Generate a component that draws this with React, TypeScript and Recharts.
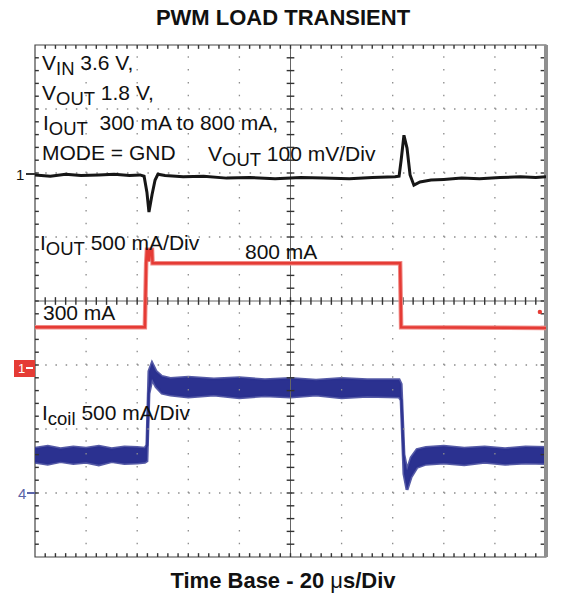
import React from 'react';
import {
  ComposedChart, Line, Area, XAxis, YAxis,
  ReferenceLine, ReferenceArea, ReferenceDot,
} from 'recharts';

// time in µs (20 µs/Div, 10 Div), level in screen divisions (0 = bottom, 8 = top)
const GRID_T = [20, 40, 60, 80, 120, 140, 160, 180];
const GRID_V = [1, 2, 3, 5, 6, 7];

// V_OUT, 100 mV/Div
const VOUT_T = [0, 6, 12, 18, 25, 31, 37, 41.1, 42.7, 43.8, 44.6, 45.8, 47.0, 48.1, 50.9, 58, 66, 75, 84, 94, 104, 113, 123, 132, 140.9, 142.5, 143.3, 144.4, 145.6, 146.8, 148.3, 150.7, 155, 160, 167, 174, 182, 190, 196, 200];
const VOUT_V = [5.97, 5.95, 5.98, 5.96, 5.97, 5.98, 5.96, 5.97, 5.95, 5.70, 5.39, 5.66, 5.89, 5.98, 5.96, 5.94, 5.95, 5.92, 5.93, 5.91, 5.93, 5.92, 5.91, 5.93, 5.94, 5.95, 6.20, 6.59, 6.39, 5.97, 5.81, 5.86, 5.89, 5.90, 5.92, 5.91, 5.93, 5.94, 5.93, 5.94];

// I_OUT, 500 mA/Div (300 mA -> 800 mA -> 300 mA)
const IOUT_T = [0, 43.0, 43.5, 43.8, 44.4, 44.6, 45.2, 45.8, 46.0, 100, 142.9, 143.3, 200];
const IOUT_V = [3.59, 3.59, 4.59, 4.80, 4.80, 4.62, 4.80, 4.80, 4.59, 4.59, 4.59, 3.59, 3.58];

// I_coil, 500 mA/Div, ripple band (low / high edge)
const ICOIL_T = [0, 5, 10, 15, 20, 25, 30, 35, 40, 43.0, 43.8, 44.6, 45.8, 47.4, 49.7, 53, 60, 70, 80, 90, 100, 110, 120, 130, 142.5, 143.3, 144.4, 145.6, 147.2, 149.5, 153, 160, 168, 176, 184, 192, 200];
const ICOIL_LO = [1.48, 1.45, 1.49, 1.46, 1.48, 1.44, 1.49, 1.46, 1.47, 1.48, 1.50, 2.55, 2.78, 2.66, 2.56, 2.53, 2.50, 2.53, 2.49, 2.52, 2.50, 2.53, 2.49, 2.51, 2.50, 2.45, 1.30, 1.05, 1.25, 1.40, 1.45, 1.47, 1.44, 1.48, 1.45, 1.47, 1.46];
const ICOIL_HI = [1.70, 1.73, 1.69, 1.72, 1.70, 1.73, 1.69, 1.72, 1.71, 1.70, 1.75, 2.90, 3.03, 2.90, 2.82, 2.79, 2.81, 2.78, 2.80, 2.77, 2.79, 2.76, 2.79, 2.77, 2.77, 2.70, 1.60, 1.35, 1.55, 1.68, 1.71, 1.73, 1.70, 1.72, 1.69, 1.72, 1.71];

const voutData = VOUT_T.map((t, i) => ({ t, v: VOUT_V[i] }));
const ioutData = IOUT_T.map((t, i) => ({ t, v: IOUT_V[i] }));
const icoilData = ICOIL_T.map((t, i) => ({ t, band: [ICOIL_LO[i], ICOIL_HI[i]] }));

// minor graticule ticks, 5 per division
const MINOR_T = Array.from({ length: 49 }, (_, i) => (i + 1) * 4);
const MINOR_V = Array.from({ length: 39 }, (_, i) => +((i + 1) * 0.2).toFixed(1));
const TICK_DV = 0.06; // half tick length in divisions (vertical ticks)
const TICK_DT = 1.5;  // half tick length in µs (horizontal ticks)
const TICK_COLOR = '#333';

const FONT = '"Liberation Sans", Arial, Helvetica, sans-serif';
const SIZE = 21;

function Txt({ x, base, size = SIZE, bold = false, color = '#111', children }: any) {
  return (
    <div style={{
      position: 'absolute', left: x, top: base - size * 0.845, fontSize: size, lineHeight: `${size}px`,
      fontFamily: FONT, fontWeight: bold ? 700 : 400, color, whiteSpace: 'nowrap',
    }}>
      {children}
    </div>
  );
}

const Sub = ({ children }: any) => (
  <span style={{ fontSize: '0.88em', position: 'relative', top: '0.27em' }}>{children}</span>
);

const centred = (top: number) => ({
  position: 'absolute' as const, left: 0, top, width: 566, textAlign: 'center' as const,
  fontFamily: FONT, fontWeight: 700, fontSize: 22, lineHeight: '22px', color: '#111', whiteSpace: 'nowrap' as const,
});

export default function App() {
  return (
    <div style={{ position: 'absolute', left: 0, top: 0, width: 563, height: 601, background: '#fff' }}>
      <ComposedChart width={563} height={601} margin={{ top: 45, right: 17, bottom: 44, left: 35 }}>
        <XAxis type="number" dataKey="t" domain={[0, 200]} allowDataOverflow hide />
        <YAxis type="number" domain={[0, 8]} allowDataOverflow hide />

        {/* dotted graticule */}
        {GRID_T.map((t) => (
          <ReferenceLine key={`gx${t}`} x={t} stroke="#8c8c8c" strokeWidth={1.3} strokeDasharray="1.5 11.3" />
        ))}
        {GRID_V.map((v) => (
          <ReferenceLine key={`gy${v}`} y={v} stroke="#8c8c8c" strokeWidth={1.3} strokeDasharray="1.5 8.72" />
        ))}
        <ReferenceLine x={100} stroke="#666" strokeWidth={1} />
        <ReferenceLine y={4} stroke="#666" strokeWidth={1} />

        {/* minor ticks on centre lines and frame */}
        {MINOR_T.map((t) => (
          <ReferenceLine key={`c${t}`} stroke={TICK_COLOR} strokeWidth={1.4} ifOverflow="visible"
            segment={[{ x: t, y: 4 - TICK_DV }, { x: t, y: 4 + TICK_DV }]} />
        ))}
        {MINOR_T.map((t) => (
          <ReferenceLine key={`t${t}`} stroke={TICK_COLOR} strokeWidth={1.4} ifOverflow="visible"
            segment={[{ x: t, y: 8 - TICK_DV }, { x: t, y: 8 }]} />
        ))}
        {MINOR_T.map((t) => (
          <ReferenceLine key={`b${t}`} stroke={TICK_COLOR} strokeWidth={1.4} ifOverflow="visible"
            segment={[{ x: t, y: 0 }, { x: t, y: TICK_DV }]} />
        ))}
        {MINOR_V.map((v) => (
          <ReferenceLine key={`m${v}`} stroke={TICK_COLOR} strokeWidth={1.4} ifOverflow="visible"
            segment={[{ x: 100 - TICK_DT, y: v }, { x: 100 + TICK_DT, y: v }]} />
        ))}
        {MINOR_V.map((v) => (
          <ReferenceLine key={`l${v}`} stroke={TICK_COLOR} strokeWidth={1.4} ifOverflow="visible"
            segment={[{ x: 0, y: v }, { x: TICK_DT, y: v }]} />
        ))}
        {MINOR_V.map((v) => (
          <ReferenceLine key={`r${v}`} stroke={TICK_COLOR} strokeWidth={1.4} ifOverflow="visible"
            segment={[{ x: 200 - TICK_DT * 1.4, y: v }, { x: 200, y: v }]} />
        ))}

        <ReferenceArea x1={0} x2={200} y1={0} y2={8} fill="none" stroke="#444" strokeWidth={1.2} />
        <ReferenceLine x={200} stroke="#8f8f8f" strokeWidth={4} />

        <Area data={icoilData} dataKey="band" type="linear" stroke="#2b3190" strokeOpacity={0.8} strokeWidth={3}
          fill="#2b3190" fillOpacity={1} dot={false} activeDot={false} isAnimationActive={false} />
        <Line data={ioutData} dataKey="v" type="linear" stroke="#f08a86" strokeWidth={4.5}
          dot={false} activeDot={false} isAnimationActive={false} />
        <Line data={ioutData} dataKey="v" type="linear" stroke="#e53b35" strokeWidth={2.5}
          dot={false} activeDot={false} isAnimationActive={false} />
        <Line data={voutData} dataKey="v" type="linear" stroke="#161616" strokeWidth={3}
          dot={false} activeDot={false} isAnimationActive={false} />
        <ReferenceDot x={197.6} y={3.83} r={2.2} fill="#e53b35" stroke="none" />
      </ComposedChart>

      {/* title and time base */}
      <div style={centred(7)}>PWM LOAD TRANSIENT</div>
      <div style={centred(570)}>
        Time Base - 20 <span style={{ fontWeight: 400 }}>μ</span>s/Div
      </div>

      {/* annotations */}
      <Txt x={42} base={70}>V<Sub>IN</Sub> 3.6 V,</Txt>
      <Txt x={42} base={100}>V<Sub>OUT</Sub> 1.8 V,</Txt>
      <Txt x={43} base={130}>I<Sub>OUT</Sub>&nbsp; 300 mA to 800 mA,</Txt>
      <Txt x={42} base={160}>MODE = GND</Txt>
      <Txt x={208} base={161}>V<Sub>OUT</Sub> 100 mV/Div</Txt>
      <Txt x={40} base={250}>I<Sub>OUT</Sub> 500 mA/Div</Txt>
      <Txt x={245} base={259}>800 mA</Txt>
      <Txt x={43} base={320}>300 mA</Txt>
      <Txt x={42} base={420}>I<Sub>coil</Sub> 500 mA/Div</Txt>

      {/* channel markers */}
      <Txt x={16} base={180} size={15}>1</Txt>
      <div style={{ position: 'absolute', left: 26, top: 173, width: 9, height: 2, background: '#333' }} />
      <div style={{ position: 'absolute', left: 14, top: 360, width: 21, height: 17, background: '#e53b35' }}>
        <span style={{ position: 'absolute', left: 4, top: 1, fontFamily: FONT, fontSize: 13, color: '#fff' }}>1</span>
        <span style={{ position: 'absolute', left: 12, top: 7, width: 7, height: 2, background: '#fff' }} />
      </div>
      <Txt x={18} base={499} size={15} color="#5b64a8">4</Txt>
      <div style={{ position: 'absolute', left: 27, top: 492, width: 8, height: 2, background: '#5b64a8' }} />
    </div>
  );
}
